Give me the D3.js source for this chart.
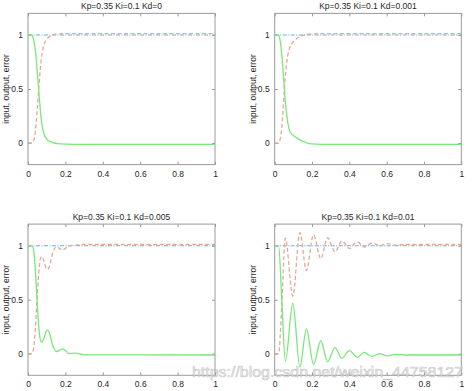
<!DOCTYPE html>
<html>
<head>
<meta charset="utf-8">
<script src="https://cdn.jsdelivr.net/npm/d3@7"></script>
<style>
  html, body { margin: 0; padding: 0; background: #fff; }
  svg { display: block; }
  text { font-family: "Liberation Sans", Arial, Helvetica, sans-serif; }
</style>
</head>
<body>
<svg id="chart" width="472" height="391"></svg>
<script>
// ---------------- data ----------------
const titles = ["Kp=0.35 Ki=0.1 Kd=0", "Kp=0.35 Ki=0.1 Kd=0.001",
                "Kp=0.35 Ki=0.1 Kd=0.005", "Kp=0.35 Ki=0.1 Kd=0.01"];
const yAxisLabel = "input, output, error";
const xTicks = [0, 0.2, 0.4, 0.6, 0.8, 1];
const xTickLabels = ["0", "0.2", "0.4", "0.6", "0.8", "1"];
const yTicks = [0, 0.5, 1];
const yTickLabels = ["0", "0.5", "1"];
const xDomain = [0, 1];
const yDomain = [-0.2, 1.2];

const inputT = [0, 1];
const inputV = [1, 1];

// Kd = 0
const t1   = [0, 0.02, 0.03, 0.04, 0.05, 0.06, 0.07, 0.08, 0.09, 0.10, 0.12, 0.14, 0.16, 0.20, 0.30, 0.50, 0.70, 1.00];
const out1 = [0, 0, 0.02, 0.12, 0.33, 0.56, 0.76, 0.87, 0.93, 0.96, 0.99, 1.005, 1.01, 1.012, 1.012, 1.012, 1.012, 1.012];
const err1 = [1, 1, 0.96, 0.85, 0.65, 0.43, 0.23, 0.12, 0.065, 0.035, 0.012, 0.0, -0.006, -0.01, -0.012, -0.012, -0.012, -0.012];

// Kd = 0.001
const t2   = [0, 0.02, 0.03, 0.04, 0.05, 0.06, 0.07, 0.08, 0.09, 0.10, 0.12, 0.14, 0.16, 0.18, 0.20, 0.25, 0.30, 1.00];
const out2 = [0, 0, 0.04, 0.18, 0.45, 0.68, 0.81, 0.88, 0.915, 0.94, 0.97, 0.99, 1.0, 1.007, 1.01, 1.012, 1.012, 1.012];
const err2 = [1, 1, 0.94, 0.78, 0.54, 0.33, 0.19, 0.11, 0.085, 0.07, 0.045, 0.025, 0.01, -0.003, -0.008, -0.012, -0.012, -0.012];

// Kd = 0.005
const t3   = [0, 0.02, 0.03, 0.04, 0.05, 0.06, 0.072, 0.085, 0.095, 0.104, 0.115, 0.13, 0.152, 0.168, 0.182, 0.20, 0.22, 0.25, 0.30, 1.00];
const out3 = [0, 0, 0.05, 0.25, 0.55, 0.80, 0.90, 0.86, 0.80, 0.78, 0.81, 0.92, 0.99, 0.975, 0.96, 0.975, 1.0, 1.005, 1.012, 1.012];
const err3 = [1, 1, 0.96, 0.76, 0.45, 0.20, 0.105, 0.14, 0.20, 0.22, 0.19, 0.09, 0.02, 0.03, 0.045, 0.03, 0.0, 0.005, -0.01, -0.012];

// Kd = 0.01
const t4   = [0, 0.021, 0.038, 0.057, 0.097, 0.135, 0.17, 0.208, 0.247, 0.283, 0.323, 0.36, 0.40, 0.442, 0.48, 0.522, 0.563, 0.603, 0.645, 0.70, 1.00];
const out4 = [0, 0, 0.45, 1.07, 0.533, 1.12, 0.77, 1.10, 0.88, 1.074, 0.944, 1.043, 0.975, 1.035, 0.988, 1.025, 1.0, 1.02, 1.006, 1.012, 1.012];
const err4 = [1, 1, 0.50, -0.07, 0.467, -0.125, 0.23, -0.10, 0.12, -0.074, 0.056, -0.043, 0.028, -0.033, 0.012, -0.025, 0.0, -0.02, -0.006, -0.012, -0.012];

const panelData = [
  { t: t1, out: out1, err: err1 },
  { t: t2, out: out2, err: err2 },
  { t: t3, out: out3, err: err3 },
  { t: t4, out: out4, err: err4 }
];
const watermark = "https://blog.csdn.net/weixin_44758127";

// ---------------- layout / style ----------------
const boxes = [
  { x0: 28,    x1: 215,   y0: 13.4,  y1: 164.6 },
  { x0: 274.7, x1: 461.3, y0: 13.4,  y1: 164.6 },
  { x0: 28,    x1: 215,   y0: 224.1, y1: 375.3 },
  { x0: 274.7, x1: 461.3, y0: 224.1, y1: 375.3 }
];
const colIn = "#62b2de", colOut = "#e4a896", colErr = "#78e878";
const boxCol = "#9a9a9a", textCol = "#262626";
const fs = 8.5;

const svg = d3.select("#chart");

panelData.forEach((d, i) => {
  const b = boxes[i];
  const x = d3.scaleLinear().domain(xDomain).range([b.x0, b.x1]);
  const y = d3.scaleLinear().domain(yDomain).range([b.y1, b.y0]);
  const g = svg.append("g");

  const styleAxis = sel => {
    sel.select(".domain").remove();
    sel.selectAll(".tick line").attr("stroke", boxCol);
    sel.selectAll(".tick text").attr("fill", textCol).style("font-size", fs + "px");
  };
  g.append("g").attr("transform", `translate(0,${b.y1})`)
    .call(d3.axisBottom(x).tickValues(xTicks).tickSize(-3).tickPadding(6)
      .tickFormat((v, k) => xTickLabels[k]))
    .call(styleAxis);
  g.append("g").attr("transform", `translate(0,${b.y0})`)
    .call(d3.axisTop(x).tickValues(xTicks).tickSize(-3).tickFormat(""))
    .call(styleAxis);
  g.append("g").attr("transform", `translate(${b.x0},0)`)
    .call(d3.axisLeft(y).tickValues(yTicks).tickSize(-3).tickPadding(5)
      .tickFormat((v, k) => yTickLabels[k]))
    .call(styleAxis);
  g.append("g").attr("transform", `translate(${b.x1},0)`)
    .call(d3.axisRight(y).tickValues(yTicks).tickSize(-3).tickFormat(""))
    .call(styleAxis);

  g.append("rect")
    .attr("x", b.x0).attr("y", b.y0)
    .attr("width", b.x1 - b.x0).attr("height", b.y1 - b.y0)
    .attr("fill", "none").attr("stroke", boxCol).attr("stroke-width", 1);

  const line = d3.line().curve(d3.curveMonotoneX)
    .x(p => x(p[0])).y(p => y(p[1]));

  g.append("path")
    .attr("d", line(inputT.map((t, k) => [t, inputV[k]])))
    .attr("fill", "none").attr("stroke", colIn).attr("stroke-width", 1.1)
    .attr("stroke-dasharray", "4,1.5,1,1.5");
  g.append("path")
    .attr("d", line(d.t.map((t, k) => [t, d.out[k]])))
    .attr("fill", "none").attr("stroke", colOut).attr("stroke-width", 1.3)
    .attr("stroke-dasharray", "4,2.5");
  g.append("path")
    .attr("d", line(d.t.map((t, k) => [t, d.err[k]])))
    .attr("fill", "none").attr("stroke", colErr).attr("stroke-width", 1.3);

  g.append("text")
    .attr("x", (b.x0 + b.x1) / 2).attr("y", b.y0 - 4)
    .attr("text-anchor", "middle").attr("fill", textCol)
    .style("font-size", fs + "px").text(titles[i]);
  g.append("text")
    .attr("transform", `translate(${b.x0 - 19},${(b.y0 + b.y1) / 2}) rotate(-90)`)
    .attr("text-anchor", "middle").attr("fill", textCol)
    .style("font-size", fs + "px").text(yAxisLabel);
});

svg.append("text")
  .attr("x", 192).attr("y", 377)
  .attr("textLength", 271).attr("lengthAdjust", "spacingAndGlyphs")
  .style("font-size", "15px")
  .attr("fill", "rgba(240,240,240,0.75)")
  .attr("stroke", "rgba(165,165,165,0.55)").attr("stroke-width", 0.7)
  .text(watermark);
</script>
</body>
</html>
